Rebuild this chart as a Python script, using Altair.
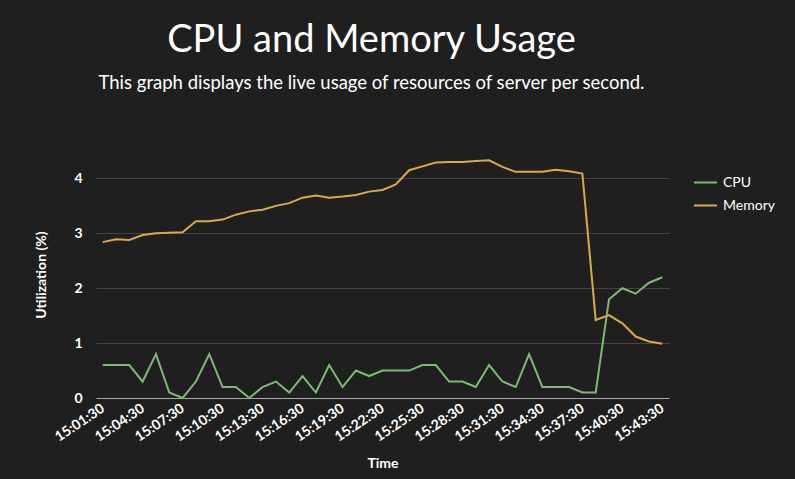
import altair as alt
import pandas as pd

times = [f"15:{m:02d}:30" for m in range(1, 44)]
cpu = [0.6, 0.6, 0.6, 0.3, 0.8, 0.1, 0.0, 0.3, 0.8, 0.2, 0.2, 0.0, 0.2, 0.3, 0.1,
       0.4, 0.1, 0.6, 0.2, 0.5, 0.4, 0.5, 0.5, 0.5, 0.6, 0.6, 0.3, 0.3, 0.2, 0.6,
       0.3, 0.2, 0.8, 0.2, 0.2, 0.2, 0.1, 0.1, 1.8, 2.0, 1.9, 2.1, 2.2]
memory = [2.84, 2.89, 2.88, 2.97, 3.00, 3.01, 3.02, 3.22, 3.22, 3.25, 3.34, 3.40,
          3.43, 3.50, 3.55, 3.65, 3.69, 3.65, 3.67, 3.70, 3.76, 3.79, 3.89, 4.15,
          4.22, 4.29, 4.30, 4.30, 4.32, 4.33, 4.21, 4.12, 4.12, 4.12, 4.16, 4.13,
          4.09, 1.42, 1.51, 1.36, 1.12, 1.03, 0.99]
tick_labels = times[::3]

df = pd.DataFrame({"Time": times * 2,
                   "Value": cpu + memory,
                   "Series": ["CPU"] * len(times) + ["Memory"] * len(times)})

FONT = "Lato"
BG = "#1f1f1f"

chart = alt.Chart(df).mark_line(strokeWidth=2).encode(
    x=alt.X("Time:O", sort=times, scale=alt.Scale(type="point", padding=0.5),
            axis=alt.Axis(values=tick_labels, labelAngle=-34, labelAlign="right",
                          labelBaseline="middle", ticks=False, labelPadding=9,
                          labelFontSize=14, labelFontWeight="bold",
                          labelColor="#ffffff", domainColor="#aaaaaa",
                          title="Time", titleFontSize=14, titleColor="#ffffff",
                          titleFontWeight="bold", titlePadding=12, grid=False)),
    y=alt.Y("Value:Q", scale=alt.Scale(domain=[0, 4.5], nice=False),
            axis=alt.Axis(values=[0, 1, 2, 3, 4], ticks=False, domain=False,
                          labelPadding=14, labelFontSize=14, labelFontWeight="bold",
                          labelColor="#ffffff", gridColor="#444444",
                          title="Utilization (%)", titleFontSize=14,
                          titleColor="#ffffff", titleFontWeight="bold",
                          titlePadding=25)),
    color=alt.Color("Series:N",
                    scale=alt.Scale(domain=["CPU", "Memory"], range=["#7dba74", "#d9aa48"]),
                    legend=alt.Legend(title=None, orient="none", legendX=597, legendY=19,
                                      symbolType="stroke", symbolStrokeWidth=2,
                                      symbolSize=529, labelFontSize=14, labelOffset=5,
                                      labelColor="#ffffff", labelFont=FONT,
                                      rowPadding=3)),
).properties(
    width=573, height=247,
    title=alt.TitleParams("CPU and Memory Usage",
                          subtitle="This graph displays the live usage of resources of server per second.",
                          anchor="middle", fontSize=38, fontWeight="normal", color="#ffffff",
                          subtitleFontSize=18.5, subtitleColor="#ffffff", subtitlePadding=14,
                          font=FONT, subtitleFont=FONT, offset=59, dx=-11),
    background=BG,
    padding={"left": 96, "top": 151, "right": 126, "bottom": 81},
    autosize=alt.AutoSizeParams(type="none"),
).configure_axis(labelFont=FONT, titleFont=FONT).configure_view(stroke=None)

chart.save("out.html", embed_options={"renderer": "svg", "actions": False})
